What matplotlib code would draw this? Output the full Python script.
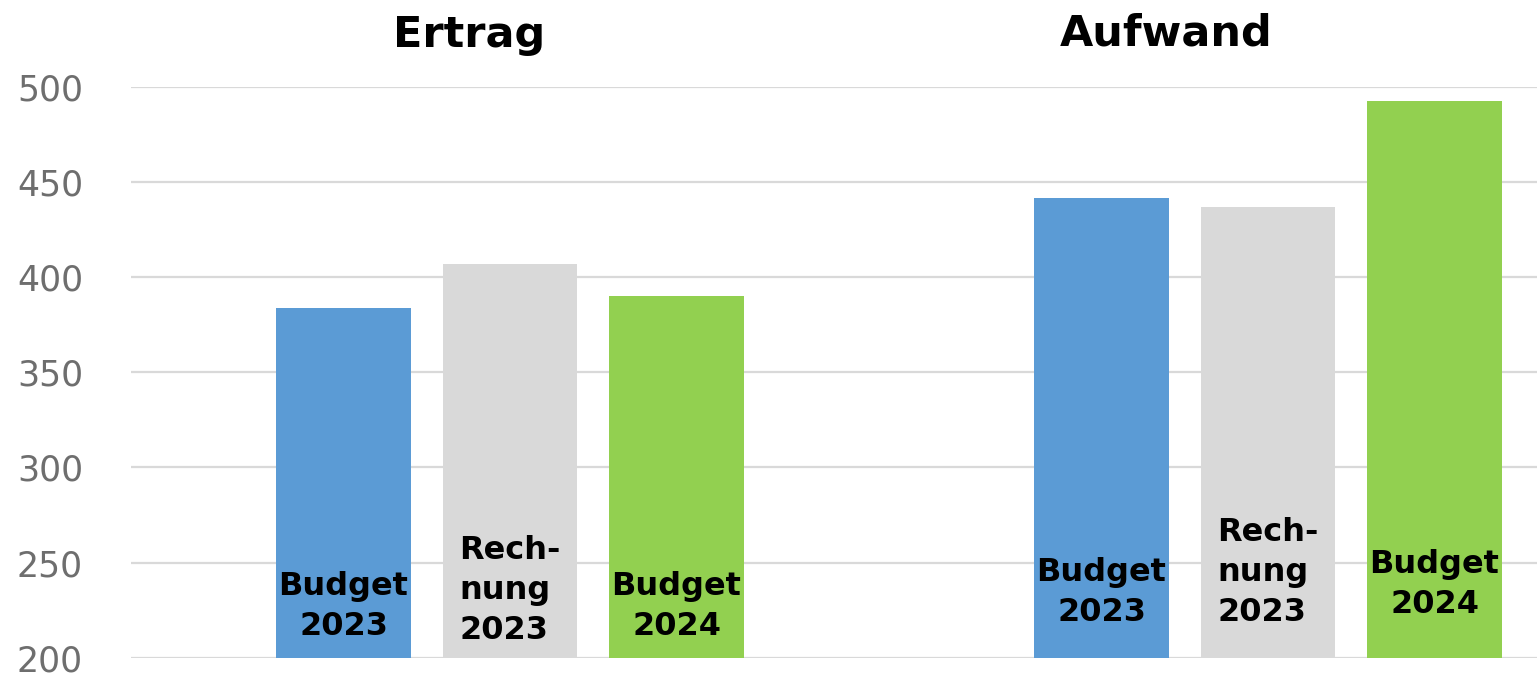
import matplotlib.pyplot as plt
import numpy as np

groups = ['Ertrag', 'Aufwand']
series = ['Budget\n2023', 'Rech-\nnung\n2023', 'Budget\n2024']
values = [
    [384, 441.5],    # Budget 2023
    [407, 436.7],    # Rechnung 2023
    [390.3, 492.5],  # Budget 2024
]
colors = ['#5B9BD5', '#D9D9D9', '#92D050']
yticks = [200, 250, 300, 350, 400, 450, 500]

fig = plt.figure(figsize=(15.37, 6.78), dpi=100)
# plot area runs past the right edge of the picture (cropped chart)
ax = fig.add_axes([131 / 1537, 20.3 / 678, 1406 / 1537, 570.7 / 678])

x = np.arange(len(groups))
width = 0.177
step = 0.2197
# label heights (bottom of text) per series and group
label_y = [[208.3, 215.7], [206.0, 215.7], [208.0, 219.9]]
for i, (name, vals, c) in enumerate(zip(series, values, colors)):
    pos = x + (i - 1) * step
    ax.bar(pos, np.array(vals) - 200, width, bottom=200, color=c, zorder=2)
    for j, p in enumerate(pos):
        align = 'left' if i == 1 else 'center'
        ax.text(p, label_y[i][j], name, ha='center', va='bottom',
                multialignment=align, fontsize=23, fontweight='bold',
                color='black', linespacing=1.38, zorder=3)

ax.set_xlim(-0.5, -0.5 + 1406 / 758)
ax.set_ylim(200, 500)
ax.set_yticks(yticks)
ax.set_xticks([])
ax.yaxis.grid(True, color='#D9D9D9', linewidth=1.6, zorder=0)
ax.set_axisbelow(True)
ax.tick_params(axis='y', length=0, pad=34.5, labelsize=25, labelcolor='#6E6E6E')
for s in ax.spines.values():
    s.set_visible(False)

# group headings
fig.text(469 / 1537, (678 - 47) / 678, 'Ertrag', ha='center', va='baseline',
         fontsize=31, fontweight='bold')
fig.text(1166 / 1537, (678 - 46) / 678, 'Aufwand', ha='center', va='baseline',
         fontsize=31, fontweight='bold')

fig.savefig('out.png', dpi=100)
